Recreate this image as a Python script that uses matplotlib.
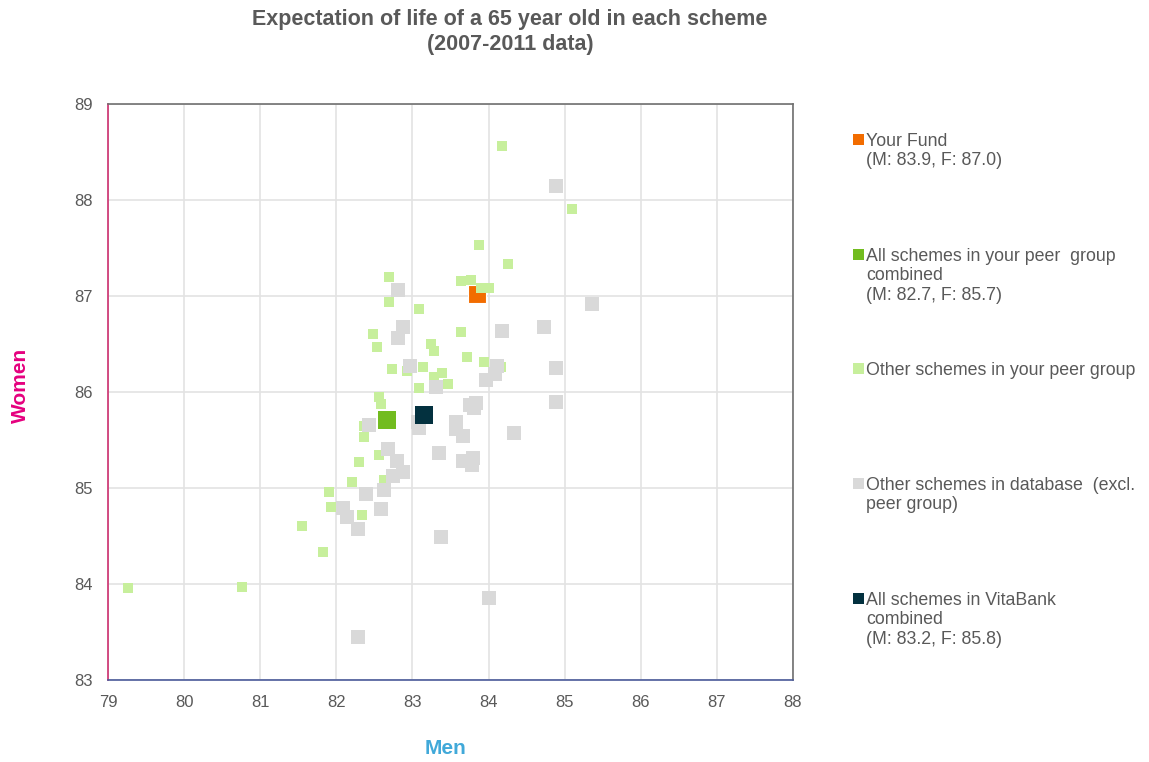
import matplotlib
matplotlib.use("Agg")
import matplotlib.pyplot as plt
from matplotlib.patches import Rectangle

plt.rcParams['font.family'] = ['Liberation Sans', 'DejaVu Sans']

# ---- data ----
fund_men = [83.85]
fund_women = [87.02]

peer_comb_men = [82.67]
peer_comb_women = [85.71]

vita_men = [83.15]
vita_women = [85.76]

peer_men = [84.18, 85.09, 83.87, 84.25, 82.69, 83.64, 83.77, 83.90, 84.01, 82.69,
            83.08, 82.48, 83.64, 82.54, 83.24, 83.28, 83.72, 83.94, 84.17, 82.73,
            82.93, 83.14, 83.39, 83.28, 83.47, 83.08, 82.56, 82.59, 82.36, 82.37,
            82.56, 82.30, 82.62, 82.21, 81.90, 81.93, 82.34, 81.55, 81.83, 79.26,
            80.76]
peer_women = [88.56, 87.91, 87.53, 87.33, 87.20, 87.16, 87.17, 87.08, 87.08, 86.94,
              86.86, 86.60, 86.63, 86.47, 86.50, 86.43, 86.36, 86.31, 86.26, 86.24,
              86.22, 86.26, 86.20, 86.16, 86.08, 86.04, 85.95, 85.88, 85.65, 85.53,
              85.34, 85.27, 85.08, 85.06, 84.96, 84.80, 84.72, 84.60, 84.33, 83.96,
              83.97]

db_men = [84.89, 82.81, 85.36, 82.88, 84.18, 84.73, 82.81, 82.97, 84.11, 84.09,
          84.89, 83.97, 83.31, 84.89, 83.83, 83.75, 83.81, 82.43, 83.07, 83.08,
          83.57, 83.57, 83.66, 84.34, 82.68, 83.35, 82.80, 82.87, 82.75, 83.66,
          83.80, 83.78, 82.63, 82.39, 82.59, 82.09, 82.14, 82.28, 83.38, 84.01,
          82.29]
db_women = [88.15, 87.06, 86.92, 86.68, 86.64, 86.68, 86.56, 86.27, 86.27, 86.19,
            86.25, 86.12, 86.05, 85.90, 85.89, 85.86, 85.83, 85.66, 85.69, 85.63,
            85.69, 85.61, 85.54, 85.57, 85.41, 85.36, 85.28, 85.17, 85.12, 85.28,
            85.31, 85.24, 84.98, 84.94, 84.78, 84.79, 84.70, 84.57, 84.49, 83.85,
            83.45]

x_ticks = [79, 80, 81, 82, 83, 84, 85, 86, 87, 88]
y_ticks = [83, 84, 85, 86, 87, 88, 89]

legend_labels = [
    "Your Fund\n(M: 83.9, F: 87.0)",
    "All schemes in your peer  group\ncombined\n(M: 82.7, F: 85.7)",
    "Other schemes in your peer group",
    "Other schemes in database  (excl.\npeer group)",
    "All schemes in VitaBank\ncombined\n(M: 83.2, F: 85.8)",
]

# ---- colours ----
C_FUND = '#F26C00'
C_PEERC = '#72BC1F'
C_PEER = '#C7EF9C'
C_DB = '#D9D9D9'
C_VITA = '#03313F'
C_TEXT = '#595959'
legend_colors = [C_FUND, C_PEERC, C_PEER, C_DB, C_VITA]

W, H = 1149, 762
fig = plt.figure(figsize=(W / 100, H / 100), dpi=100)
ax = fig.add_axes([108 / W, 1 - 680 / H, (793 - 108) / W, (680 - 104) / H])

ax.set_xlim(79, 88)
ax.set_ylim(83, 89)
ax.set_xticks(x_ticks)
ax.set_yticks(y_ticks)
ax.grid(True, color='#E3E3E3', linewidth=1.2)
ax.set_axisbelow(True)
ax.tick_params(length=0, labelsize=12, labelcolor=C_TEXT, pad=11)

ax.spines['left'].set_color('#CC2F6E')
ax.spines['bottom'].set_color('#4A5A9A')
ax.spines['top'].set_color('#6F6F6F')
ax.spines['right'].set_color('#6F6F6F')
for s in ax.spines.values():
    s.set_linewidth(1.2)

ax.scatter(fund_men, fund_women, marker='s', s=150, color=C_FUND,
           edgecolors='white', linewidths=0.8, zorder=3)
ax.scatter(peer_comb_men, peer_comb_women, marker='s', s=150, color=C_PEERC,
           linewidths=0, zorder=3)
ax.scatter(peer_men, peer_women, marker='s', s=60, color=C_PEER,
           linewidths=0, zorder=4)
ax.scatter(db_men, db_women, marker='s', s=98, color=C_DB,
           linewidths=0, zorder=5)
ax.scatter(vita_men, vita_women, marker='s', s=150, color=C_VITA,
           linewidths=0, zorder=6)

# axis labels
fig.text(445 / W, 1 - 748 / H, "Men", color='#41A9D9', fontsize=15,
         fontweight='bold', ha='center', va='center')
fig.text(20 / W, 1 - 385 / H, "Women", color='#E5007E', fontsize=15,
         fontweight='bold', ha='center', va='center', rotation=90)

# title
fig.text(510 / W, 1 - 32 / H,
         "Expectation of life of a 65 year old in each scheme\n(2007-2011 data)",
         color=C_TEXT, fontsize=15.5, fontweight='bold', ha='center', va='center',
         linespacing=1.3)

# legend (manual)
entry_y = [140, 255, 369, 484, 599]
for lab, col, yy in zip(legend_labels, legend_colors, entry_y):
    fig.add_artist(Rectangle((853 / W, 1 - (yy + 5) / H), 11 / W, 11 / H,
                             transform=fig.transFigure, color=col, lw=0))
    fig.text(866 / W, 1 - (yy - 7) / H, lab, color=C_TEXT, fontsize=12.8,
             ha='left', va='top', linespacing=1.18)

fig.savefig("out.png", dpi=100)
